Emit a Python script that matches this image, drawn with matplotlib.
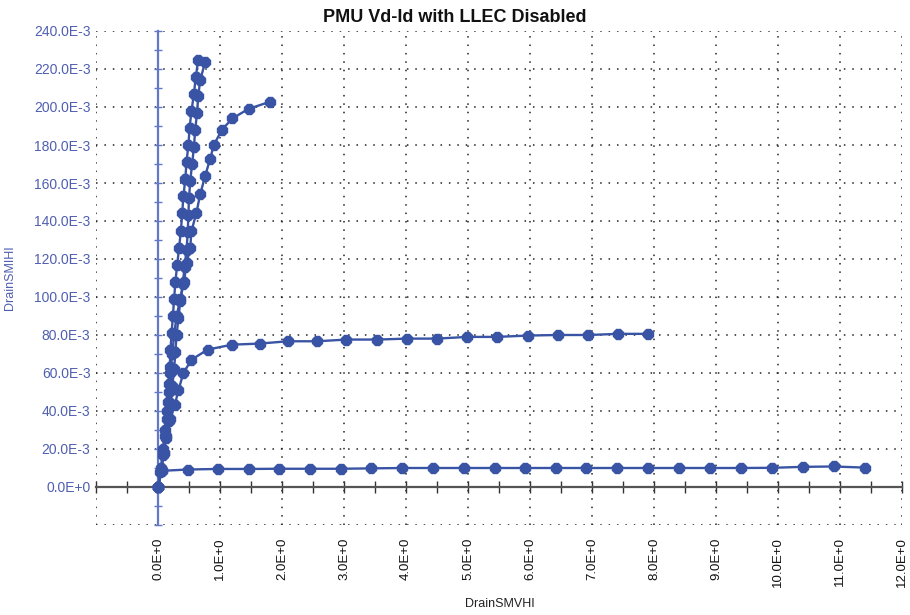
import numpy as np
import matplotlib
matplotlib.use("Agg")
import matplotlib.pyplot as plt

plt.rcParams["font.family"] = ["Liberation Sans", "DejaVu Sans"]

# Drain voltage (V) / drain current (mA) for each gate step
vd_1 = [0.0, 0.06, 0.48, 0.97, 1.46, 1.95, 2.45, 2.95, 3.44, 3.94, 4.43, 4.93,
        5.43, 5.92, 6.42, 6.91, 7.41, 7.91, 8.41, 8.91, 9.41, 9.91, 10.4, 10.9, 11.4]
id_1 = [0.0, 8.5, 9.2, 9.5, 9.5, 9.6, 9.6, 9.6, 9.8, 10.0, 10.0, 10.0,
        10.0, 10.0, 10.0, 10.0, 10.0, 10.0, 10.0, 10.0, 10.0, 10.1, 10.6, 10.8, 10.2]

vd_2 = [0.0, 0.05, 0.09, 0.13, 0.2, 0.27, 0.33, 0.41, 0.54, 0.8, 1.19, 1.65, 2.09,
        2.57, 3.04, 3.54, 4.01, 4.5, 4.99, 5.47, 5.96, 6.45, 6.94, 7.42, 7.91]
id_2 = [0.0, 9.0, 18.0, 27.0, 36.0, 43.0, 51.0, 60.0, 67.0, 72.3, 74.9, 75.5, 76.7,
        76.7, 77.6, 77.6, 78.1, 78.1, 79.0, 79.0, 79.7, 80.0, 80.0, 80.6, 80.6]

vd_3 = [0.0, 0.05, 0.08, 0.11, 0.14, 0.17, 0.2, 0.23, 0.26, 0.3, 0.36, 0.42, 0.46,
        0.52, 0.54, 0.62, 0.68, 0.76, 0.84, 0.9, 1.03, 1.2, 1.46, 1.81]
id_3 = [0.0, 10.0, 20.0, 30.0, 40.0, 50.0, 60.0, 70.0, 80.0, 90.0, 99.0, 108.0, 118.0,
        126.0, 134.7, 144.4, 154.0, 163.7, 172.6, 180.0, 188.0, 194.0, 199.0, 202.8]

vd_4 = [0.0, 0.06, 0.09, 0.11, 0.14, 0.16, 0.18, 0.19, 0.2, 0.22, 0.24, 0.26, 0.28,
        0.31, 0.34, 0.37, 0.39, 0.41, 0.44, 0.46, 0.49, 0.51, 0.54, 0.58, 0.61, 0.65]
id_4 = [0.0, 9.0, 18.0, 27.0, 36.0, 45.0, 54.0, 63.0, 72.0, 81.0, 90.0, 99.0, 108.0,
        117.0, 126.0, 135.0, 144.0, 153.0, 162.0, 171.0, 180.0, 189.0, 198.0, 207.0, 216.0, 225.0]

vd_5 = [0.0, 0.04, 0.08, 0.13, 0.17, 0.2, 0.23, 0.26, 0.28, 0.3, 0.33, 0.36, 0.4,
        0.43, 0.46, 0.48, 0.49, 0.5, 0.52, 0.55, 0.58, 0.6, 0.63, 0.65, 0.68, 0.76]
id_5 = [0.0, 8.0, 17.0, 26.0, 35.0, 44.0, 53.0, 62.0, 71.0, 80.0, 89.0, 98.0, 107.0,
        116.0, 125.0, 134.0, 143.0, 152.0, 161.0, 170.0, 179.0, 188.0, 197.0, 206.0, 214.0, 223.7]

curves = [(vd_1, id_1), (vd_2, id_2), (vd_3, id_3), (vd_4, id_4), (vd_5, id_5)]

x_ticks = list(range(-1, 13))
y_ticks_ma = list(range(-20, 241, 20))

W, H = 910, 615
pos = [96 / W, 1 - 525 / H, 806 / W, 494 / H]

line_color = "#3a54a5"
axis_blue = "#6478c8"
label_blue = "#4f5fb0"

fig = plt.figure(figsize=(W / 100, H / 100), dpi=100)

# Background axes: grid + tick labels at the edges
ax = fig.add_axes(pos)
ax.set_xlim(-1, 12)
ax.set_ylim(-0.02, 0.24)
ax.set_xticks(x_ticks)
ax.set_xticklabels(["" if v < 0 else f"{v:.1f}E+0" for v in x_ticks],
                   rotation=90, va="top", ha="center")
ax.set_yticks([v / 1000 for v in y_ticks_ma])
ax.set_yticklabels(["" if v < 0 else ("0.0E+0" if v == 0 else f"{v:.1f}E-3")
                    for v in y_ticks_ma])
ax.tick_params(axis="x", length=0, pad=9, labelsize=9.5, colors="#111111")
ax.tick_params(axis="y", length=0, pad=4, labelsize=10, labelcolor=label_blue)
for spine in ax.spines.values():
    spine.set_visible(False)
ax.grid(True, color="#222222", linestyle=(0, (1, 4.5)), linewidth=1.1)
ax.set_axisbelow(True)

ax.set_ylabel("DrainSMIHI", color=label_blue, fontsize=9)
ax.yaxis.set_label_coords((16 - 96) / 806, (525 - 278) / 494)
ax.set_xlabel("DrainSMVHI", color="#222222", fontsize=9,
              family=["Liberation Sans Narrow", "Liberation Sans"])
ax.xaxis.set_label_coords((500 - 96) / 806, (525 - 598) / 494)

# Overlay axes: axis lines crossing at the origin
ax2 = fig.add_axes(pos)
ax2.patch.set_alpha(0.0)
ax2.set_xlim(-1, 12)
ax2.set_ylim(-0.02, 0.24)
ax2.spines["top"].set_visible(False)
ax2.spines["right"].set_visible(False)
ax2.spines["left"].set_position(("data", 0))
ax2.spines["bottom"].set_position(("data", 0))
ax2.spines["left"].set_color(axis_blue)
ax2.spines["left"].set_linewidth(1.6)
ax2.spines["bottom"].set_color("#555555")
ax2.spines["bottom"].set_linewidth(1.6)
ax2.set_xticks(np.arange(-1, 12.01, 0.5))
ax2.set_yticks(np.arange(-0.02, 0.2401, 0.01))
ax2.tick_params(axis="x", direction="inout", length=8, width=1.0, color="#333333",
                labelbottom=False)
ax2.tick_params(axis="y", direction="inout", length=6, width=1.0, color=axis_blue,
                labelleft=False)

for vd, idv in curves:
    ax2.plot(vd, [v / 1000 for v in idv], color=line_color, linewidth=1.7,
             marker="8", markersize=7.5, zorder=3, clip_on=False)

fig.text(0.5, 1 - 17 / H, "PMU Vd-Id with LLEC Disabled", ha="center", va="center",
         fontsize=13, fontweight="bold", color="#111111")

fig.savefig("out.png", dpi=100, facecolor="white")
